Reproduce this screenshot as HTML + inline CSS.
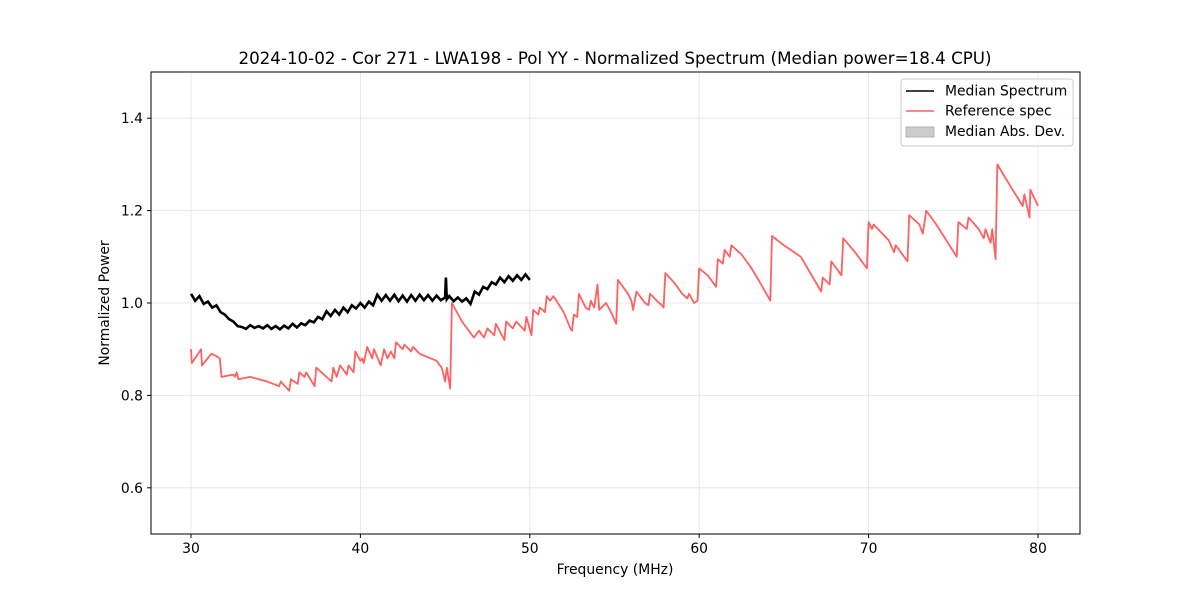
<!DOCTYPE html>
<html><head><meta charset="utf-8"><style>
body{margin:0;background:#fff}
svg text{font-family:"DejaVu Sans","Liberation Sans",sans-serif;fill:#000}
</style></head><body>
<svg id="chart" width="1200" height="600" xmlns="http://www.w3.org/2000/svg">
<rect width="1200" height="600" fill="#fff"/>
<g id="grid"></g>
<g id="series"></g>
<rect x="151" y="72" width="929" height="462" fill="none" stroke="#000" stroke-width="1"/>
<g id="ticks"></g>
<text x="615" y="64" font-size="16.7" text-anchor="middle">2024-10-02 - Cor 271 - LWA198 - Pol YY - Normalized Spectrum (Median power=18.4 CPU)</text>
<text x="615" y="574" font-size="13.9" text-anchor="middle">Frequency (MHz)</text>
<text transform="translate(109,303) rotate(-90)" font-size="13.9" text-anchor="middle">Normalized Power</text>
<g>
<rect x="901" y="79" width="172" height="67" rx="3" fill="#fff" fill-opacity="0.8" stroke="#ccc"/>
<line x1="906" y1="91" x2="934" y2="91" stroke="#000" stroke-width="1.5"/>
<text x="945" y="95.5" font-size="13.9">Median Spectrum</text>
<line x1="906" y1="111" x2="934" y2="111" stroke="#ff6060" stroke-width="1.5"/>
<text x="945" y="115.5" font-size="13.9">Reference spec</text>
<rect x="906" y="127" width="28" height="10" fill="#cccccc" stroke="#aaa" stroke-width="0.8"/>
<text x="945" y="136" font-size="13.9">Median Abs. Dev.</text>
</g>
</svg>
<script>
const xTicks=[30,40,50,60,70,80];
const yTicks=[0.6,0.8,1.0,1.2,1.4];
const refFreq=[30.0,30.05,30.6,30.65,31.2,31.5,31.7,31.8,32.5,32.6,32.7,32.8,33.5,34.5,35.2,35.3,35.8,35.9,36.3,36.4,36.7,36.8,37.3,37.4,38.3,38.4,38.6,38.8,39.2,39.3,39.6,39.7,40.0,40.1,40.2,40.4,40.7,40.8,41.2,41.4,41.6,41.8,42.0,42.1,42.5,42.6,43.0,43.1,43.5,44.5,44.8,45.0,45.1,45.3,45.4,46.0,46.5,46.7,47.0,47.3,47.5,47.9,48.0,48.5,48.6,49.0,49.2,49.7,49.8,50.1,50.2,50.5,50.6,50.9,51.0,51.2,51.4,52.0,52.4,52.5,52.6,52.8,52.9,53.3,53.5,53.6,53.8,54.0,54.1,54.5,54.8,55.1,55.2,55.8,56.0,56.1,56.3,56.8,57.0,57.1,57.5,57.8,57.9,58.0,58.5,58.8,59.0,59.3,59.4,59.7,59.9,60.0,60.5,61.0,61.1,61.4,61.5,61.8,61.9,62.5,63.0,63.5,64.2,64.3,65,66,67.2,67.3,67.7,67.8,68.4,68.5,69.2,69.9,70.0,70.2,70.3,71.2,71.5,71.6,72.3,72.4,73.0,73.2,73.4,74.0,75.2,75.3,75.8,75.9,76.5,76.8,76.9,77.2,77.3,77.5,77.6,78.5,79.1,79.2,79.5,79.55,80.0];
const refPower=[0.90,0.87,0.90,0.865,0.89,0.885,0.88,0.84,0.845,0.84,0.85,0.835,0.84,0.83,0.82,0.83,0.81,0.835,0.825,0.85,0.84,0.85,0.82,0.86,0.83,0.86,0.84,0.865,0.845,0.865,0.85,0.895,0.875,0.88,0.87,0.905,0.88,0.9,0.865,0.9,0.88,0.895,0.88,0.915,0.9,0.91,0.895,0.905,0.89,0.875,0.86,0.83,0.86,0.815,1.0,0.96,0.935,0.925,0.94,0.925,0.945,0.93,0.955,0.92,0.96,0.945,0.96,0.94,0.97,0.93,0.985,0.975,0.99,0.98,1.015,1.005,1.015,0.98,0.945,0.94,0.975,0.97,1.02,0.99,0.985,1.005,0.99,1.04,0.985,1.0,0.98,0.955,1.05,1.02,1.005,0.985,1.025,1.0,0.995,1.02,1.005,0.995,0.99,1.065,1.045,1.03,1.02,1.01,1.02,1.0,1.005,1.075,1.06,1.035,1.095,1.085,1.115,1.1,1.125,1.105,1.08,1.05,1.005,1.145,1.125,1.1,1.025,1.055,1.04,1.09,1.06,1.14,1.11,1.075,1.175,1.16,1.17,1.135,1.11,1.125,1.09,1.19,1.17,1.15,1.2,1.17,1.10,1.175,1.16,1.185,1.16,1.14,1.16,1.13,1.16,1.095,1.3,1.245,1.21,1.235,1.185,1.245,1.21];
const medFreq=[30.0,30.25,30.5,30.75,31,31.25,31.5,31.75,32,32.25,32.5,32.75,33,33.25,33.5,33.75,34,34.25,34.5,34.75,35,35.25,35.5,35.75,36,36.25,36.5,36.75,37,37.25,37.5,37.75,38,38.25,38.5,38.75,39,39.25,39.5,39.75,40,40.25,40.5,40.75,41,41.25,41.5,41.75,42,42.25,42.5,42.75,43,43.25,43.5,43.75,44,44.25,44.5,44.75,45,45.05,45.1,45.25,45.5,45.75,46,46.25,46.5,46.75,47,47.25,47.5,47.75,48,48.25,48.5,48.75,49,49.25,49.5,49.75,50];
const medPower=[1.02,1.005,1.015,0.998,1.003,0.99,0.995,0.98,0.975,0.965,0.96,0.95,0.948,0.944,0.952,0.946,0.95,0.945,0.952,0.944,0.95,0.943,0.951,0.945,0.955,0.947,0.956,0.952,0.962,0.958,0.97,0.965,0.982,0.972,0.985,0.975,0.99,0.98,0.995,0.988,1.0,0.99,1.003,0.995,1.018,1.005,1.017,1.005,1.018,1.004,1.016,1.003,1.017,1.005,1.018,1.006,1.017,1.005,1.016,1.006,1.012,1.055,1.008,1.015,1.004,1.012,1.003,1.01,0.998,1.025,1.018,1.035,1.03,1.045,1.04,1.055,1.045,1.058,1.048,1.06,1.05,1.062,1.05];
const NS="http://www.w3.org/2000/svg";
const X0=27.64,X1=82.48,Y0=0.5,Y1=1.5,L=151,R=1080,T=72,B=534;
const sx=v=>L+(v-X0)/(X1-X0)*(R-L);
const sy=v=>B-(v-Y0)/(Y1-Y0)*(B-T);
const grid=document.getElementById('grid'),ticks=document.getElementById('ticks'),series=document.getElementById('series');
function mk(tag,attrs,parent){const e=document.createElementNS(NS,tag);for(const k in attrs)e.setAttribute(k,attrs[k]);parent.appendChild(e);return e;}
xTicks.forEach(t=>{const x=sx(t);
 const g=mk('line',{x1:x,x2:x,y1:T,y2:B,stroke:'#e3e3e3','stroke-width':0.8},grid);
 
 
 const tk=mk('line',{x1:x,x2:x,y1:B,y2:B+4,stroke:'#000'},ticks);
 
 
 const lb=mk('text',{x:x,y:B+19,'font-size':13.9,'text-anchor':'middle'},ticks);lb.textContent=t;
 
 
});
yTicks.forEach(t=>{const y=sy(t);
 const g=mk('line',{x1:L,x2:R,y1:y,y2:y,stroke:'#e3e3e3','stroke-width':0.8},grid);
 
 
 const tk=mk('line',{x1:L-4,x2:L,y1:y,y2:y,stroke:'#000'},ticks);
 
 
 const lb=mk('text',{x:L-8,y:y+5,'font-size':13.9,'text-anchor':'end'},ticks);lb.textContent=t.toFixed(1);
 
 
});
const pts=(fx,fy)=>fx.map((f,i)=>sx(f).toFixed(1)+','+sy(fy[i]).toFixed(1)).join(' ');
const ref=mk('polyline',{points:pts(refFreq,refPower),fill:'none',stroke:'#ff6060','stroke-width':1.8,'stroke-linejoin':'round'},series);


const med=mk('polyline',{points:pts(medFreq,medPower),fill:'none',stroke:'#000','stroke-width':2.6,'stroke-linejoin':'miter'},series);


</script>
</body></html>
